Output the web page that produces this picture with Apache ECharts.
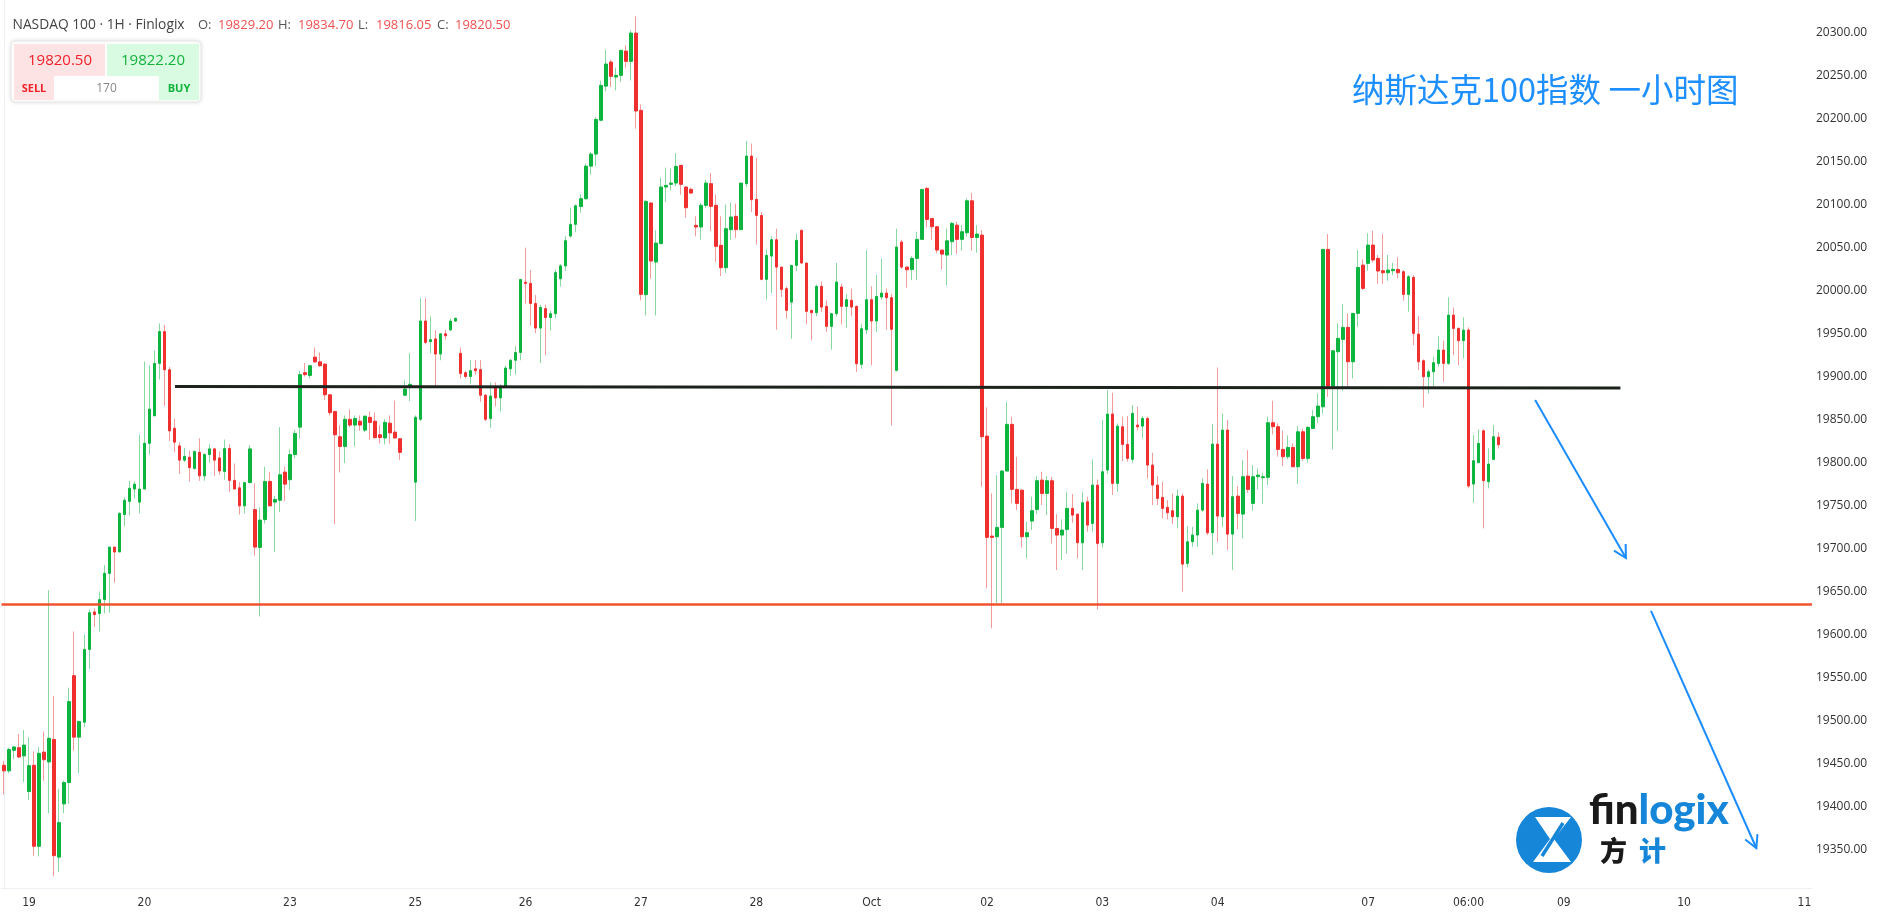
<!DOCTYPE html>
<html><head><meta charset="utf-8">
<script src="https://cdn.jsdelivr.net/npm/echarts@6/dist/echarts.min.js"></script>
<style>html,body{margin:0;padding:0;background:#fff}#c{width:1878px;height:921px}</style>
</head><body><div id="c"></div><script>
// ---- data (hourly candles, NASDAQ 100) ----
const open=[19447.7,19441.2,19465.1,19468.2,19458.6,19417.2,19447.7,19353.5,19463.0,19451.6,
19477.8,19340.9,19402.8,19427.6,19551.9,19480.4,19497.8,19582.4,19626.0,19624.2,
19640.4,19670.9,19701.4,19695.7,19739.3,19754.6,19768.9,19753.7,19768.9,19822.1,
19854.0,19915.0,19952.0,19907.6,19839.6,19819.1,19802.5,19806.0,19792.9,19811.7,
19784.2,19809.0,19815.6,19805.1,19789.4,19816.0,19779.0,19770.3,19749.3,19776.4,
19745.0,19701.0,19733.4,19777.7,19753.7,19755.9,19788.6,19779.8,19809.0,19840.9,
19904.2,19901.0,19922.3,19916.8,19914.1,19878.5,19859.1,19829.7,19818.4,19850.0,
19843.3,19847.8,19837.4,19852.3,19847.8,19832.0,19828.3,19845.5,19835.1,19827.4,
19878.0,19888.4,19776.9,19850.0,19964.3,19940.3,19943.5,19925.9,19949.4,19953.9,
19964.3,19926.8,19904.2,19899.7,19908.7,19907.8,19878.0,19850.9,19887.5,19874.9,
19888.4,19908.7,19918.7,19927.7,20009.4,20008.0,19984.6,19956.1,19978.7,19968.3,
19972.8,20013.5,20028.4,20063.1,20076.7,20097.4,20106.5,20144.4,20158.4,20197.7,
20237.4,20265.4,20248.0,20249.9,20278.2,20266.2,20299.1,20209.2,19994.9,20101.5,
20032.9,20054.2,20120.1,20123.2,20124.7,20145.3,20120.1,20117.4,20075.5,20073.6,
20098.8,20124.0,20098.8,20052.3,20026.3,20070.5,20086.0,20070.5,20124.0,20156.1,
20105.7,20087.1,20012.7,20039.8,20058.8,20027.0,20001.8,19986.3,20029.0,20069.7,
20031.7,19976.7,19973.9,20004.6,19981.3,19958.1,19972.8,20003.8,19981.3,19988.3,
19981.3,19913.9,19954.2,19989.1,19964.3,19992.2,19996.8,19991.4,19906.9,20056.1,
20027.0,20024.3,20037.1,20059.2,20118.5,20083.6,20073.9,20046.8,20041.0,20056.5,
20075.8,20059.2,20066.9,20104.1,20061.5,20064.2,19830.5,19714.2,19713.4,19724.3,
19789.8,19844.1,19768.5,19767.7,19713.4,19731.7,19745.2,19779.3,19763.8,19778.6,
19723.1,19715.4,19722.0,19746.4,19739.8,19706.5,19754.1,19728.9,19773.5,19706.5,
19791.0,19856.1,19775.5,19841.3,19820.8,19803.4,19843.3,19842.1,19851.0,19796.8,
19773.5,19759.2,19747.6,19743.7,19736.7,19760.7,19682.4,19707.6,19715.4,19744.4,
19774.7,19718.1,19821.2,19736.7,19837.5,19716.5,19760.7,19739.8,19784.0,19752.2,
19783.2,19782.1,19782.5,19846.0,19841.4,19815.0,19806.5,19817.3,19794.8,19835.5,
19804.5,19839.4,19853.0,19864.6,20047.6,19888.6,19928.6,19942.9,19956.9,19916.9,
19973.1,20029.3,20031.3,20052.6,20037.1,20022.8,20020.4,20022.8,20024.3,20021.6,
19995.2,20015.0,19949.1,19918.1,19899.5,19905.3,19915.0,19930.5,19915.0,19971.2,
19955.7,19941.4,19953.8,19774.7,19799.5,19836.7,19777.4,19803.4,19829.2];
const high=[19452.9,19468.2,19469.9,19484.3,19488.7,19480.4,19463.8,19469.0,19486.9,19651.3,
19528.3,19420.2,19429.8,19537.9,19603.3,19498.7,19599.8,19628.6,19630.3,19649.9,
19680.5,19701.4,19701.4,19741.9,19759.4,19778.5,19777.7,19832.2,19917.2,19912.8,
19930.2,19961.6,19959.9,19910.6,19850.9,19823.4,19816.9,19813.4,19813.8,19827.8,
19810.4,19821.2,19816.9,19812.5,19826.5,19821.2,19798.6,19776.8,19776.4,19820.0,
19775.5,19747.4,19795.1,19788.6,19761.1,19840.9,19795.1,19814.7,19837.8,19906.3,
19915.5,19913.2,19933.5,19927.7,19915.5,19879.4,19859.1,19843.3,19854.5,19861.3,
19854.5,19854.5,19854.5,19859.1,19857.7,19843.3,19850.0,19854.5,19871.7,19827.4,
19895.2,19926.8,19854.5,19990.9,19990.9,19969.7,19953.9,19950.3,19953.9,19967.4,
19968.3,19933.5,19906.5,19919.1,19919.1,19918.7,19879.4,19892.9,19892.9,19890.7,
19912.3,19920.0,19934.9,20012.6,20049.6,20023.9,19994.5,19983.2,19983.2,19976.4,
20023.9,20030.6,20063.1,20096.1,20099.7,20111.9,20147.1,20160.7,20201.3,20243.7,
20279.9,20268.1,20258.8,20279.8,20284.8,20302.2,20318.5,20216.2,20104.6,20102.6,
20069.7,20130.9,20142.6,20141.4,20159.6,20145.3,20120.8,20119.3,20086.0,20101.9,
20128.6,20136.4,20111.5,20086.0,20099.5,20101.9,20100.7,20124.7,20173.6,20170.5,
20153.8,20091.0,20047.2,20062.7,20071.6,20027.0,20004.6,20029.0,20065.8,20070.5,
20031.7,19976.7,20006.5,20010.4,19988.3,19973.6,20031.7,20007.7,19996.0,20001.9,
19982.5,19961.2,20046.4,20004.6,20018.1,20036.7,20002.0,19996.0,20071.6,20058.8,
20027.0,20039.8,20068.1,20117.3,20120.4,20083.6,20074.7,20046.8,20072.0,20079.7,
20079.7,20075.8,20106.9,20113.4,20075.8,20070.0,19863.8,19763.8,19785.1,19791.0,
19870.4,19853.0,19806.5,19767.7,19730.9,19760.0,19784.0,19789.0,19784.0,19783.2,
19739.8,19733.6,19765.8,19763.1,19739.8,19765.8,19760.0,19803.4,19780.1,19849.1,
19884.0,19880.9,19845.2,19853.0,19853.8,19866.5,19864.6,19853.8,19853.0,19811.1,
19784.0,19777.4,19756.1,19763.8,19768.5,19763.8,19725.8,19725.1,19752.2,19781.3,
19791.7,19844.5,19910.3,19856.9,19849.1,19784.0,19772.4,19802.6,19814.2,19796.8,
19792.9,19787.9,19853.0,19871.6,19845.2,19836.7,19831.3,19822.0,19842.1,19839.4,
19842.1,19860.7,19880.1,20047.6,20065.4,19930.5,19961.5,19984.0,19973.1,19973.9,
20046.8,20035.9,20066.2,20069.3,20041.0,20065.4,20041.0,20032.1,20038.3,20023.5,
20017.7,20017.7,19970.0,19919.7,19908.0,19922.8,19946.8,19941.4,19991.7,19980.1,
19956.9,19968.5,19956.9,19831.7,19838.3,19838.3,19816.2,19843.5,19834.7];
const low=[19413.7,19438.5,19455.1,19456.0,19428.1,19407.2,19342.6,19341.8,19429.8,19391.9,
19318.7,19323.5,19391.9,19402.8,19464.7,19438.5,19492.1,19559.7,19608.5,19603.3,
19624.2,19625.1,19660.0,19695.7,19725.4,19738.4,19758.1,19740.6,19768.9,19809.0,
19854.0,19896.2,19865.7,19824.7,19811.7,19786.4,19800.3,19777.7,19791.6,19778.5,
19778.5,19799.5,19784.2,19785.5,19779.8,19765.5,19768.9,19739.3,19740.6,19775.5,
19691.4,19620.7,19728.8,19749.3,19695.7,19742.0,19755.0,19768.1,19804.7,19827.8,
19899.7,19897.4,19915.5,19911.0,19872.6,19854.5,19728.1,19788.2,19799.0,19841.0,
19818.4,19836.5,19835.1,19826.1,19827.4,19822.0,19820.7,19821.6,19827.4,19802.6,
19878.0,19871.3,19731.7,19847.8,19937.2,19926.8,19888.4,19918.7,19942.6,19953.0,
19963.3,19897.4,19897.4,19890.7,19901.9,19870.4,19847.8,19840.1,19865.0,19859.1,
19887.0,19900.6,19901.9,19918.7,19984.6,19959.3,19950.3,19915.5,19924.5,19953.0,
19967.4,20004.4,20022.5,20061.3,20067.6,20090.2,20105.1,20134.5,20144.4,20197.7,
20231.5,20236.4,20232.5,20242.2,20258.8,20244.1,20187.9,19988.3,19970.8,20013.5,
19970.8,20054.2,20102.6,20116.2,20120.8,20111.2,20084.4,20112.3,20062.7,20058.8,
20096.0,20068.9,20032.9,20016.6,20020.1,20058.8,20060.8,20070.5,20120.1,20091.0,
20053.0,20011.5,19989.1,19996.8,19954.2,19992.2,19967.0,19943.7,20022.4,20030.9,
19960.4,19941.8,19969.7,19974.7,19951.5,19930.9,19969.7,19960.4,19956.5,19969.7,
19905.0,19908.8,19948.8,19912.7,19951.5,19989.1,19954.2,19842.9,19905.7,20025.1,
20003.0,20011.9,20011.9,20058.4,20073.1,20058.4,20042.9,20024.3,20006.1,20041.0,
20042.1,20046.0,20062.3,20046.0,20043.7,19771.6,19653.4,19606.9,19635.9,19635.9,
19789.8,19752.2,19744.5,19701.0,19688.2,19721.2,19739.8,19750.3,19738.6,19705.7,
19674.7,19686.3,19694.0,19729.7,19688.2,19674.7,19719.3,19719.3,19628.9,19701.0,
19786.3,19761.9,19765.8,19801.4,19800.6,19799.5,19837.5,19827.8,19781.3,19750.3,
19750.3,19734.8,19733.6,19728.2,19723.1,19649.5,19677.8,19701.8,19701.8,19742.5,
19715.4,19692.1,19707.6,19725.1,19697.9,19674.7,19722.0,19711.5,19764.6,19743.7,
19768.5,19751.4,19773.5,19832.4,19806.5,19795.6,19803.4,19794.8,19774.7,19801.8,
19799.5,19839.4,19846.0,19856.9,19876.2,19815.0,19836.7,19883.2,19888.6,19897.6,
19957.6,20000.3,20022.8,20032.1,20007.3,20007.3,20011.1,20017.7,20013.8,19987.9,
19975.1,19936.3,19907.3,19863.8,19880.1,19888.6,19911.1,19893.7,19913.1,19924.7,
19913.1,19920.8,19769.7,19753.0,19799.5,19723.1,19769.7,19802.6,19816.05];
const close=[19441.2,19466.0,19469.0,19457.3,19471.2,19447.3,19353.5,19461.6,19454.2,19479.1,
19342.6,19381.0,19427.6,19521.8,19480.4,19498.7,19582.4,19625.1,19622.9,19640.4,
19670.9,19701.4,19695.7,19740.6,19755.9,19769.8,19774.6,19768.9,19822.1,19861.8,
19915.0,19952.0,19907.6,19836.5,19823.4,19802.5,19806.9,19793.8,19812.5,19784.2,
19809.0,19815.6,19802.5,19789.9,19816.0,19779.0,19768.9,19749.3,19776.4,19815.6,
19701.4,19732.8,19777.7,19749.3,19756.7,19785.5,19774.6,19809.0,19833.5,19901.9,
19901.9,19912.3,19916.8,19912.3,19878.5,19857.7,19832.0,19818.4,19850.0,19843.3,
19850.9,19843.3,19853.6,19846.4,19828.8,19828.8,19846.4,19834.2,19828.3,19811.6,
19885.2,19890.7,19852.3,19964.3,19939.4,19942.6,19925.9,19949.4,19947.1,19964.3,
19967.4,19903.3,19899.7,19906.5,19906.5,19878.0,19850.0,19877.1,19874.9,19888.4,
19909.6,19918.7,19927.7,20012.6,20008.0,19984.6,19956.1,19980.1,19968.3,19972.8,
20020.7,20028.4,20057.7,20076.7,20098.3,20106.5,20144.4,20158.4,20198.6,20238.3,
20263.1,20248.8,20249.9,20279.0,20266.2,20299.1,20208.5,19995.3,20103.4,20034.0,
20054.9,20120.1,20122.0,20124.7,20144.1,20123.2,20096.0,20113.1,20073.6,20098.8,
20124.7,20097.6,20051.1,20026.3,20071.6,20085.2,20070.5,20124.7,20156.1,20105.3,
20087.1,20012.7,20040.6,20058.8,20027.0,20001.1,19976.7,20029.0,20058.1,20031.7,
19975.5,19973.9,20004.6,19980.5,19958.1,19972.8,20009.6,19981.3,19989.1,19980.5,
19914.6,19955.3,19989.1,19964.3,19992.9,19996.8,19991.4,19954.6,20050.3,20027.0,
20023.9,20037.1,20059.2,20117.3,20082.4,20073.9,20046.8,20042.1,20057.6,20077.8,
20059.2,20068.1,20104.1,20061.5,20065.4,19829.7,19712.7,19712.7,19724.3,19789.8,
19844.1,19768.5,19752.2,19713.4,19718.1,19743.7,19778.6,19763.8,19778.6,19723.1,
19715.4,19721.2,19746.4,19738.6,19706.5,19753.0,19727.0,19773.5,19705.7,19789.0,
19856.1,19775.5,19842.1,19820.8,19804.5,19856.9,19841.3,19851.0,19796.8,19773.5,
19758.0,19746.4,19741.4,19736.7,19760.7,19681.6,19707.6,19715.4,19744.4,19775.5,
19718.1,19821.2,19737.5,19837.5,19716.5,19760.0,19740.6,19783.2,19768.5,19783.2,
19785.2,19783.2,19846.0,19841.4,19815.0,19806.5,19817.3,19794.8,19835.5,19804.5,
19840.6,19853.0,19865.4,20047.6,19888.6,19929.7,19944.1,19956.9,19916.9,19973.1,
20026.6,20002.2,20052.6,20035.2,20022.4,20020.4,20023.5,20024.3,20020.4,19995.2,
20015.8,19949.9,19916.9,19899.5,19905.3,19915.8,19930.5,19915.0,19971.2,19955.7,
19941.4,19953.8,19772.4,19801.8,19822.0,19778.6,19797.9,19829.7,19820.5];

// time slots on the x axis (hours, incl. projected future hours)
const slotCount = 361;
const dayTickIndex = [5, 28, 57, 82, 104, 127, 150, 173, 196, 219, 242, 272, 292, 311, 335, 359];
const dayTickLabels = ['19','20','23','25','26','27','28','Oct','02','03','04','07','06:00','09','10','11'];

// annotation levels (slot index, price)
const resistance = [[34.1, 19888.0], [322.3, 19886.5]];
const support = 19634.7;
const arrowPaths = [[[305.3, 19872.4], [323.4, 19688.7]], [[328.4, 19627.3], [349.4, 19351.5]]];

// header values
const quote = {o:'19829.20', h:'19834.70', l:'19816.05', c:'19820.50', sell:'19820.50', buy:'19822.20', spread:'170'};

// ---- chart ----
const chart = echarts.init(document.getElementById('c'), null, {width:1878, height:921});
const categories = Array.from({length: slotCount}, (_, i) => String(i));
const tickMap = {};
dayTickIndex.forEach((k, j) => { tickMap[k] = dayTickLabels[j]; });
const wickData = open.map((o, i) => [o, close[i], low[i], high[i]]);
const bodyData = open.map((o, i) => [o, close[i], Math.min(o, close[i]), Math.max(o, close[i])]);

const GREEN = '#0db43f', RED = '#f0302f', GREEN_W = '#86d9a0', RED_W = '#f39b9b';

chart.setOption({
  animation: false,
  backgroundColor: '#ffffff',
  grid: {left: 1.5, right: 66, top: 0, bottom: 33},
  xAxis: [{
    type: 'category', data: categories, boundaryGap: true,
    axisLine: {show: true, lineStyle: {color: '#eceff4', width: 1}},
    axisTick: {show: false}, splitLine: {show: false},
    axisLabel: {
      interval: (i) => tickMap[i] !== undefined,
      formatter: (v, i) => tickMap[i] || '',
      color: '#333', fontFamily: '"Liberation Sans Narrow", "DejaVu Sans Condensed", sans-serif', fontSize: 12, margin: 9
    }
  }, {
    type: 'value', min: -0.5, max: slotCount - 0.5, show: false
  }],
  yAxis: {
    type: 'value', position: 'right', min: 19305, max: 20337.56, splitNumber: 20,
    axisLine: {show: true, lineStyle: {color: '#eceff4', width: 1}},
    axisTick: {show: false}, splitLine: {show: false},
    axisLabel: {
      formatter: (v) => v.toFixed(2), showMinLabel: false, showMaxLabel: false,
      color: '#333', fontFamily: '"Open Sans", sans-serif', fontSize: 12, margin: 4
    }
  },
  series: [
    {type: 'candlestick', data: wickData, barWidth: 1,
     itemStyle: {color: GREEN_W, color0: RED_W, borderColor: GREEN_W, borderColor0: RED_W, borderWidth: 1}},
    {type: 'candlestick', data: bodyData, barWidth: 3,
     itemStyle: {color: GREEN, color0: RED, borderColor: GREEN, borderColor0: RED, borderWidth: 1}},
    {type: 'line', xAxisIndex: 1, data: resistance, symbol: 'none',
     lineStyle: {color: '#1c231c', width: 3}},
    {type: 'line', xAxisIndex: 1, data: [[-0.5, support], [slotCount - 0.5, support]], symbol: 'none',
     lineStyle: {color: '#f0522f', width: 2.5}}
  ]
});

function arrowEls(a) {
  const p0 = chart.convertToPixel({seriesIndex: 2}, a[0]);
  const p1 = chart.convertToPixel({seriesIndex: 2}, a[1]);
  const ang = Math.atan2(p1[1] - p0[1], p1[0] - p0[0]);
  const L = 14, sp = 0.5;
  const w1 = [p1[0] - L * Math.cos(ang - sp), p1[1] - L * Math.sin(ang - sp)];
  const w2 = [p1[0] - L * Math.cos(ang + sp), p1[1] - L * Math.sin(ang + sp)];
  const st = {stroke: '#1a8cff', lineWidth: 2, fill: null};
  return [
    {type: 'polyline', shape: {points: [p0, p1]}, style: st, z: 50},
    {type: 'polyline', shape: {points: [w1, p1, w2]}, style: st, z: 50}
  ];
}

const hdrFont = '"Open Sans", sans-serif';
const g = [];
arrowPaths.forEach(a => arrowEls(a).forEach(e => g.push(e)));
// header
const hdr = [
  ['NASDAQ 100 · 1H · Finlogix', 12.5, '#444', 13.8],
  ['O:', 198, '#555', 13], [quote.o, 218, '#f05050', 13],
  ['H:', 278, '#555', 13], [quote.h, 298, '#f05050', 13],
  ['L:', 358, '#555', 13], [quote.l, 376, '#f05050', 13],
  ['C:', 437, '#555', 13], [quote.c, 455, '#f05050', 13]
];
hdr.forEach(h => g.push({type: 'text', x: h[1], y: 25, z: 60,
  style: {text: h[0], fill: h[2], font: h[3] + 'px ' + hdrFont, verticalAlign: 'middle', align: 'left'}}));
// trade widget
g.push({type: 'rect', z: 60, shape: {x: 11, y: 41, width: 190, height: 61, r: 4},
  style: {fill: '#fff', stroke: '#e8e8e8', lineWidth: 1, shadowBlur: 4, shadowColor: 'rgba(0,0,0,0.12)'}});
g.push({type: 'rect', z: 61, shape: {x: 14, y: 44, width: 91, height: 32}, style: {fill: '#fde3e3'}});
g.push({type: 'rect', z: 61, shape: {x: 107, y: 44, width: 92, height: 32}, style: {fill: '#d9fbe1'}});
g.push({type: 'rect', z: 61, shape: {x: 14, y: 76, width: 40, height: 24}, style: {fill: '#fde3e3'}});
g.push({type: 'rect', z: 61, shape: {x: 159, y: 76, width: 40, height: 24}, style: {fill: '#d9fbe1'}});
g.push({type: 'text', z: 62, x: 60, y: 61, style: {text: quote.sell, fill: '#f2202a', font: '500 15px ' + hdrFont, align: 'center', verticalAlign: 'middle'}});
g.push({type: 'text', z: 62, x: 153, y: 61, style: {text: quote.buy, fill: '#12b33b', font: '500 15px ' + hdrFont, align: 'center', verticalAlign: 'middle'}});
g.push({type: 'text', z: 62, x: 34, y: 88.5, style: {text: 'SELL', fill: '#f2202a', font: 'bold 11px ' + hdrFont, align: 'center', verticalAlign: 'middle'}});
g.push({type: 'text', z: 62, x: 106.5, y: 88.5, style: {text: quote.spread, fill: '#888', font: '12px ' + hdrFont, align: 'center', verticalAlign: 'middle'}});
g.push({type: 'text', z: 62, x: 179, y: 88.5, style: {text: 'BUY', fill: '#12b33b', font: 'bold 11px ' + hdrFont, align: 'center', verticalAlign: 'middle'}});
// title
g.push({type: 'text', z: 60, x: 1352, y: 90, style: {text: '纳斯达克100指数 一小时图', fill: '#1e8fff',
  font: '32.5px "Noto Sans CJK SC", sans-serif', align: 'left', verticalAlign: 'middle'}});
// logo
g.push({type: 'circle', z: 60, shape: {cx: 1549, cy: 840, r: 33}, style: {fill: '#1686d9'}});
g.push({type: 'polygon', z: 61, shape: {points: [[1535, 817], [1571, 817], [1554, 839], [1571, 862], [1533, 862], [1550, 839]]}, style: {fill: '#fff'}});
g.push({type: 'line', z: 62, shape: {x1: 1563, y1: 823, x2: 1542, y2: 856}, style: {stroke: '#1686d9', lineWidth: 3.5}});
g.push({type: 'text', z: 60, x: 1589, y: 831, style: {text: '{a|fin}{b|logix}', verticalAlign: 'bottom', align: 'left',
  rich: {a: {fill: '#1a1a1a', font: '900 42px Lato, sans-serif'}, b: {fill: '#1686d9', font: '900 42px Lato, sans-serif'}}}});
g.push({type: 'text', z: 60, x: 1600, y: 851, style: {text: '方', fill: '#1a1a1a', font: '900 27px "Noto Sans CJK SC"', verticalAlign: 'middle'}});
g.push({type: 'text', z: 60, x: 1639, y: 851, style: {text: '计', fill: '#1686d9', font: '900 27px "Noto Sans CJK SC"', verticalAlign: 'middle'}});

chart.setOption({graphic: g});
</script></body></html>
